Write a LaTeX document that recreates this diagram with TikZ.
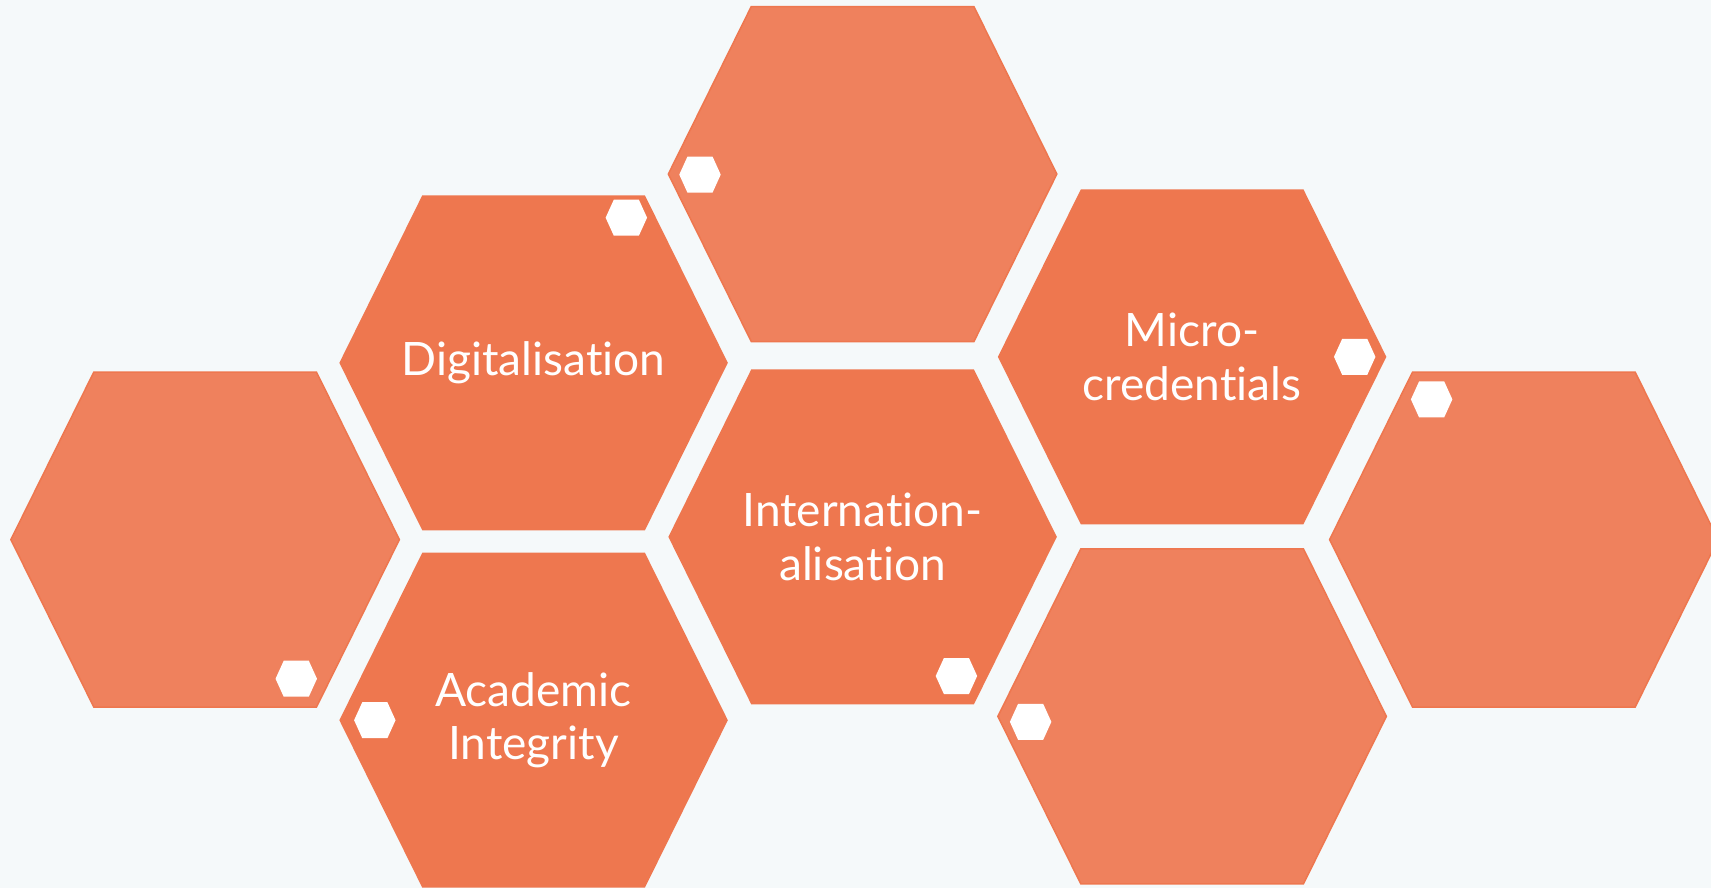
\documentclass[tikz,border=0pt]{standalone}
\usepackage{fontspec}
\setmainfont{Lato}[Ligatures=NoCommon]
\definecolor{bgcol}{HTML}{F5F9FA}
\definecolor{hexdark}{HTML}{EE774F}
\definecolor{hexlight}{HTML}{EF815D}
\tikzset{
  hexa/.pic={\path[pic actions] (-178,0) -- (-102,-153.5) -- (102,-153.5) -- (178,0) -- (102,153.5) -- (-102,153.5) -- cycle;},
  minihex/.pic={\path[pic actions] (-19,0) -- (-11.5,-16.5) -- (11.5,-16.5) -- (19,0) -- (11.5,16.5) -- (-11.5,16.5) -- cycle;}
}
\begin{document}
\begin{tikzpicture}[x=0.01cm, y=-0.01cm,
    dark/.style = {fill=hexdark},
    light/.style = {fill=hexlight, draw=hexdark, line width=0.4pt},
    dot/.style = {fill=white},
    label/.style = {text=white, align=center, font=\fontsize{12}{14}\selectfont}]
  \fill[bgcol] (0,0) rectangle (1568,814);
  \useasboundingbox (0,0) rectangle (1568,814);
  % big hexagons
  \pic[light] at (790.5,159.5) {hexa};
  \pic[dark] at (489,332.5) {hexa};
  \pic[light] at (188,494.5) {hexa};
  \pic[dark] at (489,660) {hexa};
  \pic[dark] at (790.5,492) {hexa};
  \pic[dark] at (1092.5,327) {hexa};
  \pic[light] at (1092.5,656.5) {hexa};
  \pic[light] at (1396.5,494.5) {hexa};
  % small white hexagons
  \pic[dot] at (641.5,160) {minihex};
  \pic[dot] at (574,199.5) {minihex};
  \pic[dot] at (271.5,622) {minihex};
  \pic[dot] at (343.5,660) {minihex};
  \pic[dot] at (876.5,619.5) {minihex};
  \pic[dot] at (1241.5,327) {minihex};
  \pic[dot] at (944.5,661.5) {minihex};
  \pic[dot] at (1312,366) {minihex};
  % labels
  \node[label] (digi) at (489,332) {Digitalisation};
  \node[label] (micro) at (1092.5,327) {Micro-\\credentials};
  \node[label] (intl) at (790.5,492) {Internation-\\alisation};
  \node[label] (acad) at (489,660) {Academic\\Integrity};
\end{tikzpicture}
\end{document}
